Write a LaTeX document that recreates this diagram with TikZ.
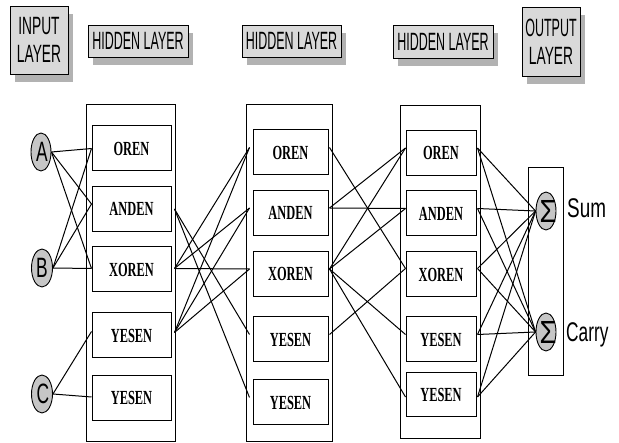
\documentclass[tikz,border=0pt]{standalone}
\usepackage{fontspec}
\usepackage{graphicx}
\setmainfont{Liberation Serif}
\newfontfamily\hdrfont{Liberation Sans}
\usetikzlibrary{shapes.geometric,shadows}
\newcommand{\hx}[1]{\scalebox{0.55}[1]{#1}}
\newcommand{\hxx}[1]{\scalebox{0.5}[1]{#1}}
\newcommand{\bx}[1]{\scalebox{0.62}[1]{#1}}
\tikzset{
  hdr/.style={draw, line width=0.9pt, fill=gray!30, inner sep=0pt, align=center,
    font=\hdrfont\fontsize{25}{28}\selectfont,
    drop shadow={shadow xshift=5pt, shadow yshift=-8pt, fill=gray!60, opacity=1}},
  col/.style={draw, line width=1pt, inner sep=0pt},
  unit/.style={draw, line width=1pt, inner sep=0pt, minimum height=45pt,
    font=\bfseries\fontsize{20}{20}\selectfont},
  inp/.style={ellipse, draw, line width=0.9pt, fill=gray!45, inner sep=0pt,
    minimum width=20pt, minimum height=38pt},
  letter/.style={font=\hdrfont\fontsize{28}{28}\selectfont, inner sep=0pt},
  sig/.style={font=\hdrfont\fontsize{32}{32}\selectfont, inner sep=0pt},
  outtext/.style={font=\hdrfont\fontsize{27}{27}\selectfont, inner sep=0pt, anchor=base west},
  conn/.style={line width=1pt}
}
\begin{document}
\begin{tikzpicture}[x=1pt,y=-1pt]
\useasboundingbox (0,0) rectangle (619,443);

% header boxes
\node[hdr, minimum width=58pt, minimum height=68pt] (hin) at (39,40) {\hx{INPUT}\\\hx{LAYER}};
\node[hdr, minimum width=100pt, minimum height=32pt] (hh1) at (138,41) {\hxx{HIDDEN LAYER}};
\node[hdr, minimum width=99pt, minimum height=32pt] (hh2) at (291.5,41) {\hxx{HIDDEN LAYER}};
\node[hdr, minimum width=100pt, minimum height=33pt] (hh3) at (443,41.5) {\hxx{HIDDEN LAYER}};
\node[hdr, minimum width=58pt, minimum height=69pt] (hout) at (551,41.5) {\hxx{OUTPUT}\\\hx{LAYER}};

% columns
\node[col, minimum width=89pt, minimum height=337pt] (c1) at (130.5,273.5) {};
\node[col, minimum width=86pt, minimum height=337pt] (c2) at (289,273.5) {};
\node[col, minimum width=80pt, minimum height=333pt] (c3) at (440,272.5) {};
\node[col, minimum width=35pt, minimum height=208pt] (c4) at (545.5,272) {};

% hidden layer 1
\node[unit, minimum width=79pt] (or1)   at (131.5,148.5) {\bx{OREN}};
\node[unit, minimum width=79pt] (and1)  at (131.5,209)   {\bx{ANDEN}};
\node[unit, minimum width=79pt] (xor1)  at (131.5,269.5) {\bx{XOREN}};
\node[unit, minimum width=79pt] (yes1a) at (131.5,335.5) {\bx{YESEN}};
\node[unit, minimum width=79pt] (yes2a) at (131.5,398)   {\bx{YESEN}};
% hidden layer 2
\node[unit, minimum width=75pt] (or2)   at (290.5,152.5) {\bx{OREN}};
\node[unit, minimum width=75pt] (and2)  at (290.5,213)   {\bx{ANDEN}};
\node[unit, minimum width=75pt] (xor2)  at (290.5,274)   {\bx{XOREN}};
\node[unit, minimum width=75pt] (yes1b) at (290.5,339.5) {\bx{YESEN}};
\node[unit, minimum width=75pt] (yes2b) at (290.5,402.5) {\bx{YESEN}};
% hidden layer 3
\node[unit, minimum width=70pt] (or3)   at (441,153)   {\bx{OREN}};
\node[unit, minimum width=70pt] (and3)  at (441,213.5) {\bx{ANDEN}};
\node[unit, minimum width=70pt] (xor3)  at (441,274.5) {\bx{XOREN}};
\node[unit, minimum width=70pt] (yes1c) at (441,339.5) {\bx{YESEN}};
\node[unit, minimum width=70pt, minimum height=44pt] (yes2c) at (441,395) {\bx{YESEN}};

% inputs
\node[inp] (A) at (41,152) {};
\node[inp, minimum width=21pt] (B) at (42,268) {};
\node[inp, minimum width=21pt] (C) at (42,394) {};
\node[letter] (At) at (42,152) {\scalebox{0.62}[1]{A}};
\node[letter] (Bt) at (42,268) {\scalebox{0.62}[1]{B}};
\node[letter] (Ct) at (43,394) {\scalebox{0.62}[1]{C}};

% outputs
\node[inp] (sum) at (546,211) {};
\node[inp] (carry) at (546,332) {};
\node[sig] (sums) at (548,211) {\scalebox{0.85}[1]{Σ}};
\node[sig] (carrys) at (548,332) {\scalebox{0.85}[1]{Σ}};
\node[outtext] (sumt) at (567,218) {\scalebox{0.7}[1]{Sum}};
\node[outtext] (carryt) at (566,342) {\scalebox{0.64}[1]{Carry}};

% ports
\foreach \n/\s in {or1/0,and1/5,xor1/1,yes1a/4,yes2a/1}
  {\coordinate (\n-l) at ([yshift=\s pt]\n.west);}
\foreach \n/\s in {and1/0,xor1/1,yes1a/3}
  {\coordinate (\n-r) at ([xshift=3pt,yshift=\s pt]\n.east);}
\foreach \n in {or2,and2,xor2,yes1b,yes2b}
  {\coordinate (\n-l) at ([xshift=-3pt,yshift=5pt]\n.west);
   \coordinate (\n-r) at ([xshift=1pt,yshift=5pt]\n.east);}
\foreach \n/\s in {or3/5,and3/5,xor3/6,yes1c/5,yes2c/-2}
  {\coordinate (\n-l) at ([yshift=\s pt]\n.west);
   \coordinate (\n-r) at ([xshift=1pt,yshift=\s pt]\n.east);}

% input -> hidden 1
\foreach \s in {A,B}
  \foreach \t in {or1,and1,xor1}
    \draw[conn] (\s.east) -- (\t-l);
\draw[conn] (C.east) -- (yes1a-l);
\draw[conn] (C.east) -- (yes2a-l);

% hidden 1 -> hidden 2
\draw[conn] (and1-r) -- (yes1b-l);
\draw[conn] (and1-r) -- (yes2b-l);
\foreach \s in {xor1,yes1a}
  \foreach \t in {or2,and2,xor2}
    \draw[conn] (\s-r) -- (\t-l);

% hidden 2 -> hidden 3
\draw[conn] (or2-r) -- (xor3-l);
\draw[conn] (and2-r) -- (or3-l);
\draw[conn] (and2-r) -- (and3-l);
\foreach \t in {or3,and3,yes1c,yes2c}
  \draw[conn] (xor2-r) -- (\t-l);
\draw[conn] (yes1b-r) -- (xor3-l);

% hidden 3 -> output
\foreach \s in {or3,and3,xor3,yes1c,yes2c}
  {\draw[conn] (\s-r) -- (sum.west);
   \draw[conn] (\s-r) -- (carry.west);}
\end{tikzpicture}
\end{document}
